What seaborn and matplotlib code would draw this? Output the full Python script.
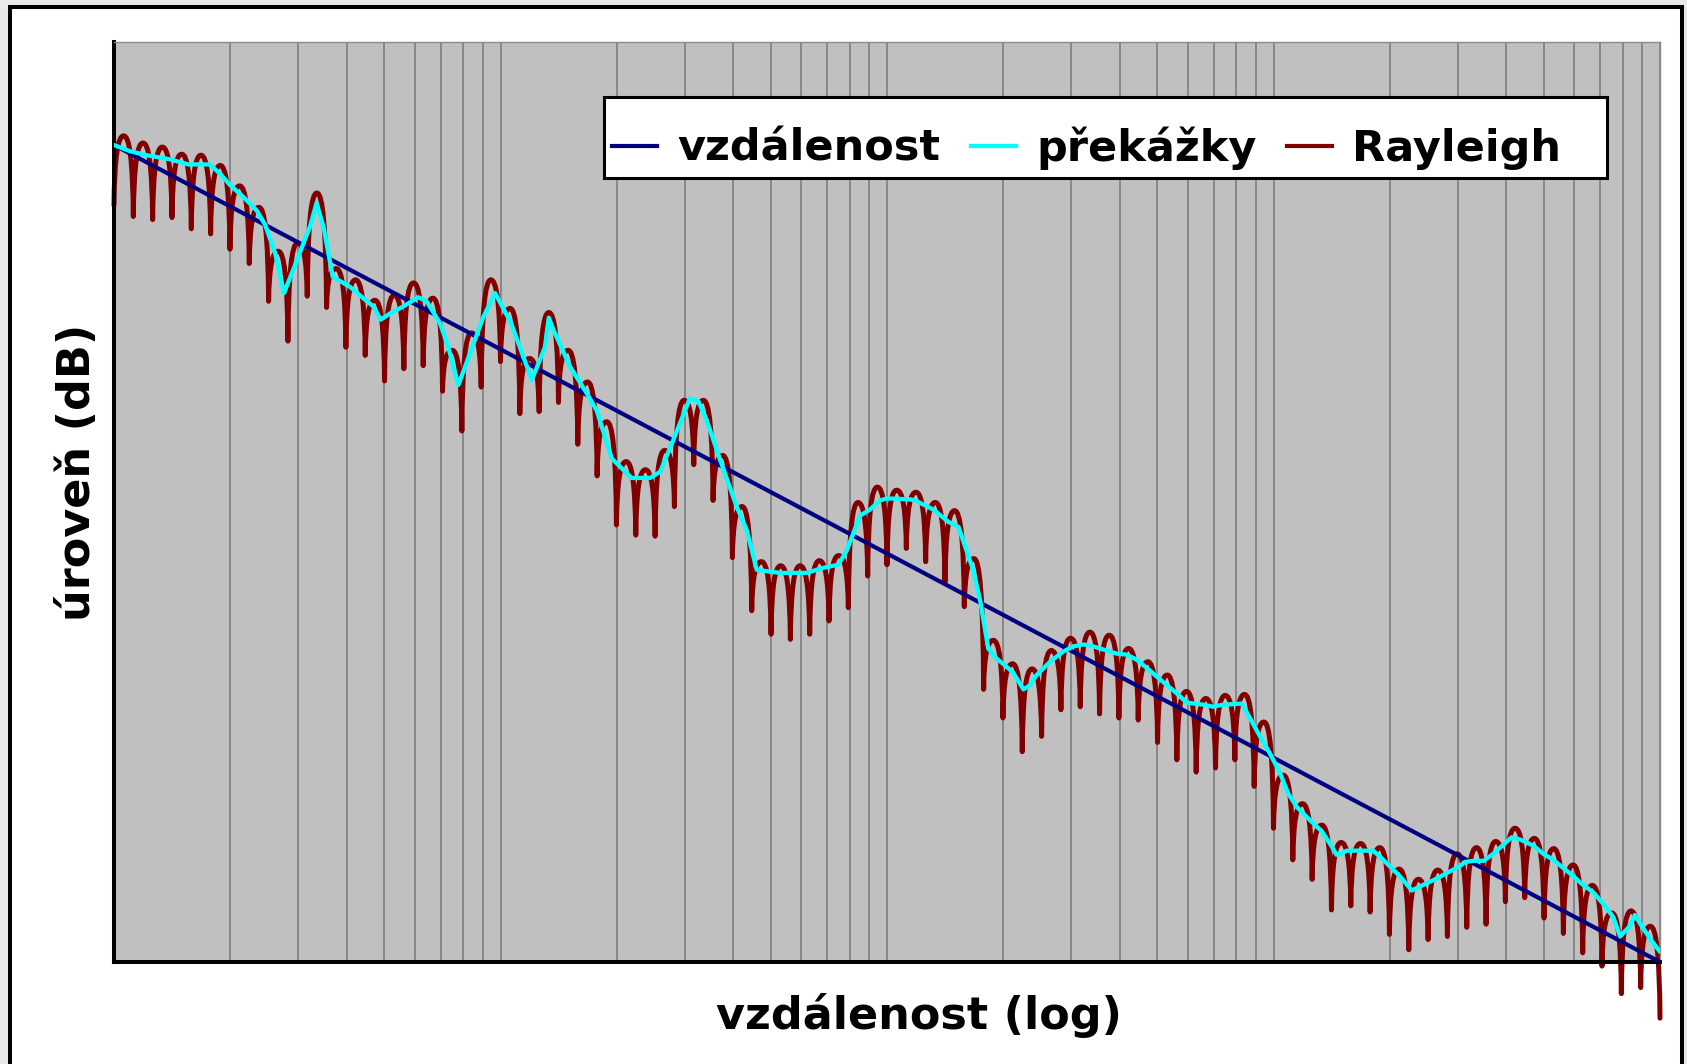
import numpy as np
import matplotlib
matplotlib.use("Agg")
import matplotlib.pyplot as plt
import seaborn as sns
from matplotlib.lines import Line2D
from matplotlib.patches import Rectangle, PathPatch
from matplotlib.path import Path
from matplotlib.ticker import LogLocator, NullFormatter

# ---------------- data ----------------
legend_labels = ["vzdálenost", "překážky", "Rayleigh"]
x_label = "vzdálenost (log)"
y_label = "úroveň (dB)"

# free-space line: level vs. distance
vzdalenost_d = [1, 10, 100, 1000, 10000]
vzdalenost_db = [0.0, -20.0, -40.0, -60.0, -80.0]

# obstacles (shadowing) line: log10(distance) and level
prekazky_logd = [0.000, 0.041, 0.085, 0.145, 0.192, 0.248, 0.274, 0.300, 0.335, 0.369,
                 0.391, 0.417, 0.440, 0.473, 0.507, 0.524, 0.542, 0.566, 0.611, 0.645,
                 0.671, 0.690, 0.714, 0.749, 0.787, 0.809, 0.844, 0.865, 0.891, 0.921,
                 0.956, 0.986, 1.027, 1.081, 1.115, 1.125, 1.137, 1.180, 1.223, 1.249,
                 1.288, 1.339, 1.387, 1.413, 1.447, 1.490, 1.512, 1.533, 1.568, 1.611,
                 1.637, 1.663, 1.723, 1.792, 1.835, 1.874, 1.896, 1.930, 1.956, 1.982,
                 2.000, 2.060, 2.073, 2.120, 2.159, 2.185, 2.202, 2.223, 2.241, 2.262,
                 2.284, 2.310, 2.327, 2.353, 2.370, 2.387, 2.422, 2.456, 2.482, 2.508,
                 2.534, 2.560, 2.594, 2.620, 2.646, 2.672, 2.715, 2.750, 2.775, 2.818,
                 2.844, 2.870, 2.918, 2.939, 2.965, 2.991, 3.017, 3.038, 3.060, 3.094,
                 3.125, 3.151, 3.163, 3.176, 3.189, 3.258, 3.284, 3.319, 3.336, 3.358,
                 3.379, 3.413, 3.448, 3.483, 3.495, 3.517, 3.543, 3.569, 3.595, 3.616,
                 3.638, 3.672, 3.698, 3.724, 3.750, 3.776, 3.793, 3.828, 3.853, 3.879,
                 3.897, 3.909, 3.922, 3.935, 3.948, 3.974, 4.000]
prekazky_db = [0.0, -0.6, -1.0, -1.4, -1.9, -1.9, -2.8, -3.9, -5.1, -6.4,
               -7.8, -10.6, -14.5, -11.3, -8.0, -5.7, -8.0, -12.9, -13.9, -15.0,
               -15.8, -17.1, -16.5, -15.8, -14.9, -15.3, -17.5, -19.8, -23.5, -20.4,
               -16.8, -14.5, -17.4, -23.0, -19.8, -16.9, -18.1, -21.7, -24.3, -26.0,
               -30.7, -32.6, -32.6, -32.0, -28.9, -24.8, -25.1, -26.9, -30.8, -35.4,
               -37.7, -41.6, -41.9, -41.9, -41.4, -41.1, -39.7, -36.3, -35.7, -34.8,
               -34.6, -34.7, -34.8, -35.7, -36.9, -37.4, -39.3, -41.6, -44.6, -49.3,
               -50.3, -51.1, -51.7, -53.3, -52.9, -51.9, -50.6, -49.6, -49.1, -48.9,
               -49.1, -49.4, -49.8, -49.9, -50.4, -51.2, -52.6, -53.7, -54.6, -54.8,
               -55.0, -54.8, -54.7, -56.1, -57.9, -59.6, -61.5, -63.5, -64.8, -66.1,
               -67.2, -68.7, -69.5, -69.4, -69.1, -69.1, -70.0, -71.3, -72.0, -73.0,
               -72.6, -72.0, -71.3, -70.6, -70.2, -70.1, -70.1, -69.4, -68.5, -67.8,
               -68.0, -68.6, -69.4, -70.0, -70.8, -71.6, -72.2, -73.2, -74.3, -75.6,
               -77.5, -77.0, -76.5, -75.4, -76.2, -77.7, -79.0]

# Rayleigh fading: start value, then (peak, dip) for each of the 80 fades;
# samples are evenly spaced in log10(distance) from 0 to 4
rayleigh_db = [-5.9,
               0.9, -7.0, 0.2, -7.3, -0.2, -7.1, -0.9, -8.2, -1.0, -8.7,
               -2.0, -10.2, -4.0, -11.6, -6.1, -15.3, -10.4, -19.2, -9.6, -14.8,
               -4.7, -15.9, -12.1, -19.8, -13.2, -20.6, -15.2, -23.1, -14.7, -21.9,
               -13.5, -21.6, -15.0, -24.1, -20.1, -28.0, -18.4, -23.7, -13.2, -21.2,
               -16.0, -26.3, -20.9, -26.1, -16.4, -25.2, -20.1, -29.3, -23.2, -32.4,
               -27.1, -37.2, -31.0, -38.2, -31.8, -38.3, -29.9, -35.4, -25.0, -31.3,
               -25.0, -34.8, -30.4, -40.4, -35.4, -45.6, -40.8, -47.9, -41.2, -48.4,
               -41.2, -47.9, -40.7, -46.6, -40.2, -45.3, -35.0, -42.2, -33.5, -41.1,
               -33.8, -39.5, -34.0, -40.8, -35.0, -42.8, -35.8, -45.2, -40.5, -53.3,
               -48.5, -56.1, -50.8, -59.4, -51.3, -57.9, -49.5, -55.3, -48.3, -55.0,
               -47.7, -55.7, -48.0, -56.1, -49.3, -56.3, -50.6, -58.5, -51.9, -60.2,
               -53.5, -61.4, -54.2, -61.0, -53.9, -60.2, -53.8, -62.8, -56.5, -66.9,
               -61.7, -70.0, -64.5, -71.9, -66.6, -74.9, -68.3, -74.5, -68.4, -75.1,
               -68.8, -77.3, -70.9, -78.8, -71.9, -77.8, -71.0, -77.5, -69.4, -76.6,
               -68.8, -76.3, -68.2, -74.1, -66.9, -73.7, -67.9, -75.7, -68.9, -77.2,
               -70.5, -79.1, -72.5, -80.4, -75.2, -83.1, -75.0, -82.5, -76.5, -85.5]
rayleigh_logd_range = (0.0, 4.0)

# ---------------- styling ----------------
W, H = 1687, 1064
C_NAVY, C_CYAN, C_RED = "#000080", "#00FFFF", "#800000"
LW_NAVY, LW_CYAN, LW_RED = 3.0, 3.1, 3.6

plt.rcParams["font.family"] = ["DejaVu Sans"]

fig = plt.figure(figsize=(W / 100, H / 100), dpi=100)
fig.patch.set_facecolor("#e9e9e9")


def fx(px):
    return px / W


def fy(py):
    return 1 - py / H


# outer white frame
fig.add_artist(Rectangle((fx(10), fy(1100)), fx(1682) - fx(10), fy(6.5) - fy(1100),
                         transform=fig.transFigure, facecolor="white",
                         edgecolor="black", lw=2.9, zorder=-1))

L, R, T, B = 114, 1660, 42, 962
ax = fig.add_axes([fx(L), fy(B), fx(R) - fx(L), fy(T) - fy(B)])
ax.set_facecolor("#C0C0C0")
ax.set_xscale("log")
ax.set_xlim(1, 10000)
ax.set_ylim(-80, 10.09)

# Rayleigh curve: rounded fade peaks, sharp fade dips (smoothed line rendering)
lu = np.linspace(rayleigh_logd_range[0], rayleigh_logd_range[1], len(rayleigh_db))
yv = np.asarray(rayleigh_db)
verts = [(10 ** lu[0], yv[0])]
codes = [Path.MOVETO]
for i in range(len(lu) - 1):
    u0, u1, y0, y1 = lu[i], lu[i + 1], yv[i], yv[i + 1]
    du = u1 - u0
    if y1 > y0:
        c1 = (u0 + 0.06 * du, y0 + 0.7 * (y1 - y0))
        c2 = (u1 - 0.6 * du, y1)
    else:
        c1 = (u0 + 0.6 * du, y0)
        c2 = (u1 - 0.06 * du, y1 + 0.7 * (y0 - y1))
    verts += [(10 ** c1[0], c1[1]), (10 ** c2[0], c2[1]), (10 ** u1, y1)]
    codes += [Path.CURVE4] * 3
ray = PathPatch(Path(verts, codes), facecolor="none", edgecolor=C_RED, lw=LW_RED,
                capstyle="round", joinstyle="round", zorder=2, clip_on=False)
ax.add_patch(ray)

sns.lineplot(x=vzdalenost_d, y=vzdalenost_db, ax=ax, color=C_NAVY, lw=LW_NAVY,
             estimator=None, sort=False, zorder=3)
sns.lineplot(x=10 ** np.asarray(prekazky_logd), y=prekazky_db, ax=ax, color=C_CYAN,
             lw=LW_CYAN, estimator=None, sort=False, zorder=4)
for ln in ax.lines:
    ln.set_solid_joinstyle("round")
    ln.set_solid_capstyle("round")
ax.set_xlim(1, 10000)
ax.set_ylim(-80, 10.09)

ax.xaxis.set_major_locator(LogLocator(base=10, numticks=20))
ax.xaxis.set_minor_locator(LogLocator(base=10, subs=np.arange(2, 10), numticks=20))
ax.xaxis.set_minor_formatter(NullFormatter())
ax.grid(True, which="both", axis="x", color="#808080", lw=1.25)
ax.grid(False, axis="y")
ax.set_axisbelow(True)
ax.tick_params(which="both", length=0, labelbottom=False, labelleft=False)
ax.set_yticks([])

for s in ("left", "bottom"):
    ax.spines[s].set_color("black")
    ax.spines[s].set_linewidth(2.9)
for s in ("top", "right"):
    ax.spines[s].set_color("#8c8c8c")
    ax.spines[s].set_linewidth(1.0)

# axis labels
ax.set_xlabel(x_label, fontsize=32, fontweight="bold", visible=True)
ax.xaxis.label.set_verticalalignment("baseline")
ax.xaxis.set_label_coords((919 - L) / (R - L), (B - 1029) / (B - T))
ax.set_ylabel(y_label, fontsize=32, fontweight="bold", visible=True)
ax.yaxis.label.set_verticalalignment("center")
ax.yaxis.label.set_rotation_mode("anchor")
ax.yaxis.set_label_coords((77.5 - L) / (R - L), (B - 472.5) / (B - T))

# legend
ax.add_patch(Rectangle((fx(603.6), fy(177.5)), fx(1607.4) - fx(603.6), fy(96.8) - fy(177.5),
                       transform=fig.transFigure, facecolor="white", edgecolor="black",
                       lw=2.2, zorder=6, clip_on=False))
handles = [Line2D([], [], color=c, lw=w) for c, w in
           ((C_NAVY, LW_NAVY), (C_CYAN, LW_CYAN), (C_RED, LW_NAVY))]
leg = ax.legend(handles, legend_labels, loc="center left",
                bbox_to_anchor=(fx(612), fy(148)), bbox_transform=fig.transFigure,
                ncol=3, frameon=False, prop={"weight": "bold", "size": 31},
                handlelength=1.05, handletextpad=0.47, columnspacing=0.7,
                borderpad=0, borderaxespad=0)
leg.set_zorder(7)

fig.savefig("out.png", dpi=100, facecolor=fig.get_facecolor())
